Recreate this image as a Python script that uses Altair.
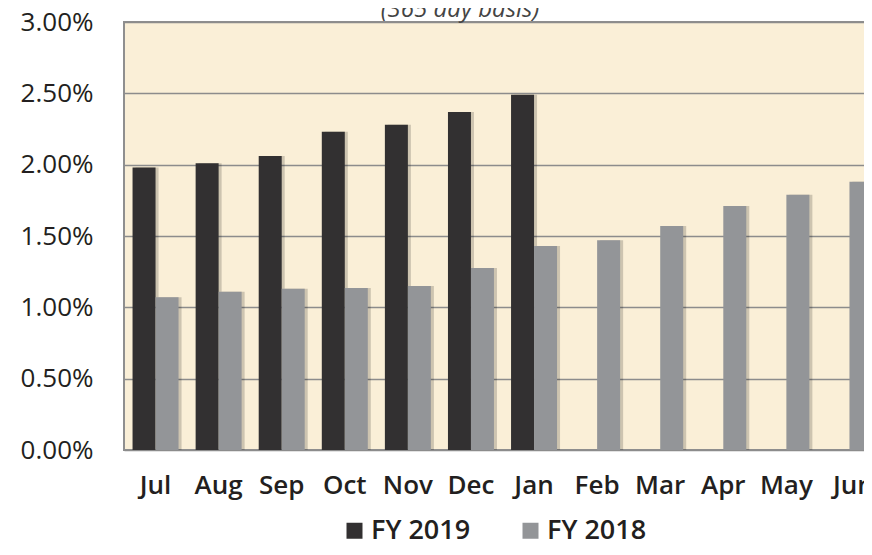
import altair as alt
import pandas as pd

# ---- data ----
months = ["Jul", "Aug", "Sep", "Oct", "Nov", "Dec", "Jan", "Feb", "Mar", "Apr", "May", "Jun"]
series = ["FY 2019", "FY 2018"]
fy2019 = [1.98, 2.01, 2.06, 2.23, 2.28, 2.37, 2.49]  # Jul..Jan (percent)
fy2018 = [1.07, 1.11, 1.13, 1.135, 1.15, 1.275, 1.43, 1.47, 1.57, 1.71, 1.79, 1.88]
y_ticks = [0.0, 0.5, 1.0, 1.5, 2.0, 2.5, 3.0]
title_text = "(365 day basis)"

rows = []
for m, v in zip(months, fy2019):
    rows.append({"month": m, "series": "FY 2019", "value": v})
for m, v in zip(months, fy2018):
    rows.append({"month": m, "series": "FY 2018", "value": v})
df = pd.DataFrame(rows)

FONT = "Open Sans"
TXT = "#231f20"

x_enc = alt.X(
    "month:N",
    sort=months,
    scale=alt.Scale(range=[0, 757], paddingInner=0.271, paddingOuter=0.1355),
    axis=alt.Axis(
        title=None, ticks=False, domain=False, labelAngle=0,
        labelPadding=43, labelBaseline="alphabetic", labelOverlap=False,
        labelFont=FONT, labelFontSize=26, labelFontWeight=600, labelColor=TXT,
        labelOffset={"condition": {"test": "datum.value === 'Jun'", "value": 4}, "value": 0},
    ),
)
y_enc = alt.Y(
    "value:Q",
    scale=alt.Scale(domain=[0, 3], nice=False),
    axis=alt.Axis(
        values=y_ticks, title=None, ticks=False, domain=False, grid=True,
        gridColor="#8c8c8c", gridWidth=1.5,
        labelExpr="format(datum.value, '.2f') + '%'",
        labelPadding=31, labelFont=FONT, labelFontSize=26, labelFontWeight=500,
        labelColor=TXT,
    ),
)

# soft drop shadow, offset a few pixels to the right
shadow = alt.Chart(df).mark_bar(color="#000000", opacity=0.18).encode(
    x=x_enc,
    xOffset=alt.XOffset("series:N", sort=series,
                        scale=alt.Scale(range=[3, 49], paddingInner=0, paddingOuter=0)),
    y=y_enc,
)

bars = alt.Chart(df).mark_bar().encode(
    x=x_enc,
    xOffset=alt.XOffset("series:N", sort=series, scale=alt.Scale(paddingInner=0, paddingOuter=0)),
    y=y_enc,
    color=alt.Color(
        "series:N",
        sort=series,
        scale=alt.Scale(domain=series, range=["#323031", "#939598"]),
        legend=alt.Legend(
            title=None, orient="none", legendX=217, legendY=495, direction="horizontal",
            symbolType="square", symbolSize=256, symbolStrokeWidth=0, symbolOpacity=1,
            labelFont=FONT, labelFontSize=27, labelFontWeight=600, labelColor=TXT,
            labelOffset=3, columnPadding=46, padding=0,
        ),
    ),
)

title = alt.Chart(pd.DataFrame({"t": [title_text]})).mark_text(
    font=FONT, fontSize=24, fontStyle="italic", color="#444444",
    align="center", baseline="alphabetic",
).encode(text="t:N", x=alt.value(336), y=alt.value(-5))

chart = alt.layer(shadow, bars, title).resolve_scale(xOffset="independent").properties(
    width=752,
    height=428,
    autosize=alt.AutoSizeParams(type="none"),
    padding={"left": 116, "top": 14, "right": -12, "bottom": 90},
    background="white",
).configure_view(
    fill="#faefd7", stroke="#8f8f8f", strokeWidth=2,
)

chart.save("out.html", embed_options={"renderer": "svg", "actions": False})
